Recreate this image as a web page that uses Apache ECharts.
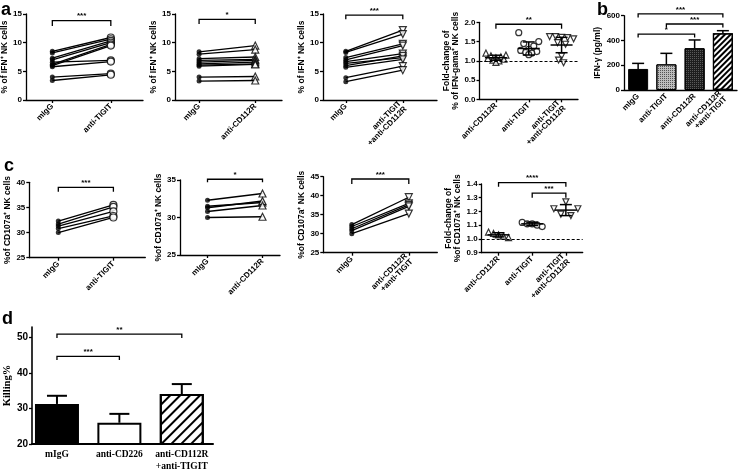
<!DOCTYPE html>
<html><head><meta charset="utf-8">
<script src="https://cdn.jsdelivr.net/npm/echarts@6/dist/echarts.min.js"></script>
<style>html,body{margin:0;padding:0;background:#fff}#c{width:738px;height:472px}</style>
</head><body><div id="c"></div>
<script>
// ================= DATA =================
// Panel a (IFN-gamma+ NK cells, paired donors)
const a1Cats = ['mIgG', 'anti-TIGIT'];
const a1Left = [8.5, 8.2, 7.3, 7.0, 6.6, 6.2, 6.0, 5.8, 4.0, 3.4];
const a1Right = [10.9, 10.6, 10.3, 10.0, 6.9, 9.7, 9.5, 6.7, 4.6, 4.4];
const a2Cats = ['mIgG', 'anti-CD112R'];
const a2Left = [8.4, 8.0, 7.2, 6.9, 6.6, 6.3, 6.1, 5.9, 4.0, 3.3];
const a2Right = [9.5, 8.8, 7.5, 7.1, 6.9, 6.6, 6.3, 6.2, 4.1, 3.4];
const a3Cats = ['mIgG', 'anti-TIGIT\n+anti-CD112R'];
const a3Left = [8.5, 8.3, 7.4, 7.0, 6.7, 6.4, 6.0, 5.7, 3.9, 3.2];
const a3Right = [12.2, 11.5, 9.8, 9.5, 8.1, 7.4, 7.7, 7.1, 5.9, 5.2];
const a4Cats = ['anti-CD112R', 'anti-TIGIT', 'anti-TIGIT\n+anti-CD112R'];
const a4CD112R = [1.2, 1.15, 1.13, 1.1, 1.08, 1.06, 1.04, 1.02, 1.0, 0.96];
const a4TIGIT = [1.73, 1.5, 1.45, 1.38, 1.3, 1.27, 1.24, 1.22, 1.2, 1.16];
const a4Combo = [1.63, 1.63, 1.61, 1.6, 1.57, 1.47, 1.43, 1.12, 1.02, 0.95];
const a4Mean = [1.08, 1.32, 1.41];
const a4SD = [0.065, 0.17, 0.2];
// Panel b (IFN-gamma pg/ml)
const bCats = ['mIgG', 'anti-TIGIT', 'anti-CD112R', 'anti-CD112R\n+anti-TIGIT'];
const bMean = [170, 207, 337, 458];
const bErr = [45, 89, 67, 21];
// Panel c (CD107a+ NK cells)
const c1Cats = ['mIgG', 'anti-TIGIT'];
const c1Left = [32.3, 31.7, 31.3, 30.8, 30.0];
const c1Right = [35.5, 35.1, 34.2, 33.3, 33.0];
const c2Cats = ['mIgG', 'anti-CD112R'];
const c2Left = [32.3, 31.5, 31.3, 30.8, 30.0];
const c2Right = [33.2, 32.0, 32.2, 31.6, 30.1];
const c3Cats = ['mIgG', 'anti-CD112R\n+anti-TIGIT'];
const c3Left = [32.4, 31.9, 31.3, 30.8, 30.0];
const c3Right = [39.6, 38.0, 37.6, 37.2, 35.3];
const c4Cats = ['anti-CD112R', 'anti-TIGIT', 'anti-TIGIT\n+anti-CD112R'];
const c4CD112R = [1.05, 1.04, 1.03, 1.02, 1.01];
const c4TIGIT = [1.12, 1.11, 1.11, 1.10, 1.09];
const c4Combo = [1.27, 1.22, 1.22, 1.18, 1.17];
const c4Mean = [1.03, 1.11, 1.21];
const c4SD = [0.015, 0.012, 0.04];
// Panel d (Killing %)
const dCats = ['mIgG', 'anti-CD226', 'anti-CD112R\n+anti-TIGIT'];
const dMean = [31.3, 26.0, 34.1];
const dErr = [2.3, 2.5, 2.8];
// Significance: [fromCat, toCat, level, armEnd, label]
const a1Sig = [[0, 1, 13.83, 12.9, '***']];
const a2Sig = [[0, 1, 14.07, 13.26, '*']];
const a3Sig = [[0, 1, 14.8, 14.1, '***']];
const a4Sig = [[0, 2, 1.95, 1.83, '**']];
const bSig = [[0, 3, 614, 586, '***'], [1, 3, 533, 505, '***'], [0, 2, 452, 424, '*']];
const c1Sig = [[0, 1, 39.0, 38.1, '***']];
const c2Sig = [[0, 1, 35.1, 34.7, '*']];
const c3Sig = [[0, 1, 44.4, 43.1, '***']];
const c4Sig = [[0, 2, 1.41, 1.38, '****'], [1, 2, 1.333, 1.30, '***']];
const dSig = [[0, 2, 51.0, 49.9, '**'], [0, 1, 44.7, 43.7, '***']];
const foldBaseline = 1.0;

// ================= LAYOUT / STYLE =================
const SANS = "'Liberation Sans', Arial, sans-serif";
const SERIF = "'Liberation Serif', 'Times New Roman', serif";
const BOX = {
  a1: [26, 14, 117, 86], a2: [175, 14, 107, 86], a3: [323, 14, 114, 86], a4: [479.5, 22.3, 98.5, 77],
  b: [624, 15.7, 113, 74.3],
  c1: [29.3, 182.3, 116, 75.4], c2: [180, 180, 100, 75], c3: [323.3, 176.7, 114, 76], c4: [481.7, 184, 101, 68.7],
  d: [32, 327, 181, 117]
};
const SLOTS = 40;
const swarm10 = [-10, 10, -5, 5, 0, -8, 8, -3, 3, 0];
const swarm10b = [-12, -6, 0, 6, 12, -4, 4, 0, -3, 2];
const swarm5 = [-10, -5, 0, 5, 10];
const swarm5c = [0, -12, 12, -5, 5];

const grids = [], xAxes = [], yAxes = [], series = [];
function addGrid(b) {
  grids.push({ left: b[0], top: b[1], width: b[2], height: b[3], containLabel: false, outerBoundsMode: 'none' });
  return grids.length - 1;
}
const axisLine = { show: true, onZero: false, lineStyle: { color: '#000', width: 1.3 } };
function yAx(g, min, max, interval, name, gap, digits, extra) {
  return Object.assign({
    gridIndex: g, type: 'value', min, max, interval, name, nameLocation: 'middle', nameGap: gap, nameRotate: 90,
    nameTextStyle: { fontFamily: SANS, fontWeight: 'bold', fontSize: 8.5, color: '#000', lineHeight: 9.5 },
    axisLine, axisTick: { show: true, length: 3, lineStyle: { color: '#000', width: 1.3 } },
    axisLabel: { fontFamily: SANS, fontWeight: 'bold', fontSize: 8, color: '#000', margin: 4,
      formatter: v => digits ? v.toFixed(digits) : String(Math.round(v)) },
    splitLine: { show: false }
  }, extra || {});
}
function slotAxis(g, n, pos, cats, labelExtra, tickShow) {
  const data = [];
  for (let i = 0; i <= n; i++) data.push('');
  pos.forEach((p, i) => { data[p] = cats[i]; });
  const keep = (i, v) => v !== '';
  return {
    gridIndex: g, type: 'category', data, boundaryGap: false, axisLine,
    axisTick: { show: tickShow !== false, length: 3, interval: keep, lineStyle: { color: '#000', width: 1.3 } },
    axisLabel: Object.assign({ interval: keep, rotate: 45, fontFamily: SANS, fontWeight: 'bold', fontSize: 8, color: '#000', margin: 5 }, labelExtra || {}),
    splitLine: { show: false }
  };
}
function catAxis(g, cats, tickShow) {
  return {
    gridIndex: g, type: 'category', data: cats, boundaryGap: true, axisLine,
    axisTick: { show: tickShow !== false, alignWithLabel: true, length: 3, lineStyle: { color: '#000', width: 1.3 } },
    axisLabel: { interval: 0, rotate: 45, fontFamily: SANS, fontWeight: 'bold', fontSize: 8, color: '#000', margin: 5 },
    splitLine: { show: false }
  };
}
function bracketRender(texts) {
  return function (params, api) {
    const x1 = api.value(0), x2 = api.value(1), y = api.value(2), ya = api.value(3);
    const p1 = api.coord([x1, ya]), p2 = api.coord([x1, y]), p3 = api.coord([x2, y]), p4 = api.coord([x2, ya]);
    return { type: 'group', children: [
      { type: 'polyline', shape: { points: [p1, p2, p3, p4] }, style: { stroke: '#000', lineWidth: 1.3, fill: null } },
      { type: 'text', x: (p2[0] + p3[0]) / 2, y: p2[1] - 0.5,
        style: { text: texts[params.dataIndex], fontFamily: SANS, fontSize: 8, fontWeight: 'bold', fill: '#000', align: 'center', verticalAlign: 'bottom' } }
    ] };
  };
}
function addBrackets(g, pos, sig) {
  series.push({ type: 'custom', xAxisIndex: g, yAxisIndex: g, clip: false, silent: true, z: 6,
    data: sig.map(s => [pos[s[0]], pos[s[1]], s[2], s[3]]), encode: { x: [0, 1], y: [2, 3] },
    renderItem: bracketRender(sig.map(s => s[4])) });
}
function meanSDRender(half, cap) {
  return function (params, api) {
    const x = api.value(0), m = api.value(1), s = api.value(2);
    const pm = api.coord([x, m]), pt = api.coord([x, m + s]), pb = api.coord([x, m - s]);
    const st = { stroke: '#000', lineWidth: 1.5 };
    return { type: 'group', children: [
      { type: 'line', shape: { x1: pt[0], y1: pt[1], x2: pb[0], y2: pb[1] }, style: st },
      { type: 'line', shape: { x1: pm[0] - half, y1: pm[1], x2: pm[0] + half, y2: pm[1] }, style: st },
      { type: 'line', shape: { x1: pt[0] - cap, y1: pt[1], x2: pt[0] + cap, y2: pt[1] }, style: st },
      { type: 'line', shape: { x1: pb[0] - cap, y1: pb[1], x2: pb[0] + cap, y2: pb[1] }, style: st }
    ] };
  };
}
function errRender(cap, lw) {
  return function (params, api) {
    const x = api.value(0), m = api.value(1), e = api.value(2);
    const p0 = api.coord([x, m]), p1 = api.coord([x, m + e]);
    const st = { stroke: '#000', lineWidth: lw };
    return { type: 'group', children: [
      { type: 'line', shape: { x1: p0[0], y1: p0[1], x2: p1[0], y2: p1[1] }, style: st },
      { type: 'line', shape: { x1: p1[0] - cap, y1: p1[1], x2: p1[0] + cap, y2: p1[1] }, style: st }
    ] };
  };
}
const openStyle = { color: '#fff', borderColor: '#000', borderWidth: 1.2 };

function paired(box, pos, cats, left, right, sym, rot, yMin, yMax, yInt, yName, gap, sig) {
  const g = addGrid(box);
  xAxes.push(slotAxis(g, SLOTS, pos, cats));
  yAxes.push(yAx(g, yMin, yMax, yInt, yName, gap, 0));
  left.forEach((v, i) => series.push({ type: 'line', xAxisIndex: g, yAxisIndex: g, data: [[pos[0], v], [pos[1], right[i]]],
    symbol: 'none', lineStyle: { color: '#000', width: 1.3 }, silent: true, z: 2 }));
  series.push({ type: 'scatter', xAxisIndex: g, yAxisIndex: g, data: left.map(v => [pos[0], v]), symbol: 'circle', symbolSize: 5,
    itemStyle: { color: '#000' }, z: 3, silent: true });
  series.push({ type: 'scatter', xAxisIndex: g, yAxisIndex: g, data: right.map(v => [pos[1], v]), symbol: sym, symbolRotate: rot,
    symbolSize: 7, itemStyle: openStyle, z: 4, silent: true });
  addBrackets(g, pos, sig);
}
function dotPlot(box, cats, groups, syms, rots, offs, mean, sd, yMin, yMax, yInt, yName, gap, sig) {
  const g = addGrid(box);
  xAxes.push(catAxis(g, cats));
  yAxes.push(yAx(g, yMin, yMax, yInt, yName, gap, 1));
  groups.forEach((grp, j) => {
    const s = { type: 'scatter', xAxisIndex: g, yAxisIndex: g, symbol: syms[j], symbolRotate: rots[j], symbolSize: 6,
      itemStyle: openStyle, z: 3, silent: true,
      data: grp.map((v, i) => ({ value: [j, v], symbolOffset: [offs[j][i], 0] })) };
    if (j === 0) s.markLine = { silent: true, symbol: ['none', 'none'], label: { show: false },
      lineStyle: { type: [3, 2], color: '#000', width: 1 }, data: [{ yAxis: foldBaseline }] };
    series.push(s);
  });
  series.push({ type: 'custom', xAxisIndex: g, yAxisIndex: g, silent: true, z: 5, clip: false,
    data: mean.map((m, j) => [j, m, sd[j]]), encode: { x: 0, y: 1 }, renderItem: meanSDRender(11, 6) });
  addBrackets(g, [0, 1, 2], sig);
}

// ---- panel a ----
paired(BOX.a1, [9, 29], a1Cats, a1Left, a1Right, 'circle', 0, 0, 15, 5, '% of IFN⁺ NK cells', 10.5, a1Sig);
paired(BOX.a2, [9, 30], a2Cats, a2Left, a2Right, 'triangle', 0, 0, 15, 5, '% of IFN⁺ NK cells', 14, a2Sig);
paired(BOX.a3, [8, 28], a3Cats, a3Left, a3Right, 'triangle', 180, 0, 15, 5, '% of IFN⁺ NK cells', 13, a3Sig);
dotPlot(BOX.a4, a4Cats, [a4CD112R, a4TIGIT, a4Combo], ['triangle', 'circle', 'triangle'], [0, 0, 180],
  [swarm10, swarm10, swarm10b], a4Mean, a4SD, 0, 2, 0.5, 'Fold-change of\n% of IFN-gama⁺ NK cells', 16, a4Sig);

// ---- panel b ----
(function () {
  const g = addGrid(BOX.b);
  xAxes.push(catAxis(g, bCats, false));
  yAxes.push(yAx(g, 0, 600, 200, 'IFN-γ (pg/ml)', 15, 0));
  const bStyles = [
    { color: '#000', borderColor: '#000', borderWidth: 1 },
    { color: '#bdbdbd', borderColor: '#000', borderWidth: 1,
      decal: { symbol: 'rect', symbolSize: 1, dashArrayX: [1, 1], dashArrayY: [1, 1], color: '#555' } },
    { color: '#1e1e1e', borderColor: '#000', borderWidth: 1,
      decal: { symbol: 'rect', symbolSize: 1, dashArrayX: [1, 1], dashArrayY: [1, 1], color: '#5a5a5a' } },
    { color: '#fff', borderColor: '#000', borderWidth: 1.2,
      decal: { symbol: 'rect', symbolSize: 1, dashArrayX: [[1, 0]], dashArrayY: [1.2, 2], rotation: -Math.PI / 4, color: '#000' } }
  ];
  series.push({ type: 'bar', xAxisIndex: g, yAxisIndex: g, barWidth: 20, silent: true,
    data: bMean.map((v, i) => ({ value: v, itemStyle: bStyles[i] })) });
  series.push({ type: 'custom', xAxisIndex: g, yAxisIndex: g, silent: true, z: 5, clip: false,
    data: bMean.map((m, i) => [i, m, bErr[i]]), encode: { x: 0, y: 1 }, renderItem: errRender(6, 1.5) });
  addBrackets(g, [0, 1, 2, 3], bSig);
})();

// ---- panel c ----
paired(BOX.c1, [10, 29], c1Cats, c1Left, c1Right, 'circle', 0, 25, 40, 5, '%of CD107a⁺ NK cells', 9.5, c1Sig);
paired(BOX.c2, [11, 33], c2Cats, c2Left, c2Right, 'triangle', 0, 25, 35, 5, '%of CD107a⁺ NK cells', 12, c2Sig);
paired(BOX.c3, [10, 30], c3Cats, c3Left, c3Right, 'triangle', 180, 25, 45, 5, '%of CD107a⁺ NK cells', 12, c3Sig);
dotPlot(BOX.c4, c4Cats, [c4CD112R, c4TIGIT, c4Combo], ['triangle', 'circle', 'triangle'], [0, 0, 180],
  [swarm5, swarm5, swarm5c], c4Mean, c4SD, 0.9, 1.4, 0.1, 'Fold-change of\n%of CD107a⁺ NK cells', 16, c4Sig);

// ---- panel d ----
(function () {
  const g = addGrid(BOX.d);
  const dPos = [4, 14, 24];
  xAxes.push(slotAxis(g, 29, dPos, dCats, { rotate: 0, fontFamily: SERIF, fontSize: 9.5, margin: 5, lineHeight: 12 }, false));
  yAxes.push(yAx(g, 20, 53, 10, 'Killing%', 11, 0, {
    nameTextStyle: { fontFamily: SERIF, fontWeight: 'bold', fontSize: 10.5, color: '#000' },
    axisLine: { show: true, onZero: false, lineStyle: { color: '#000', width: 1.6 } },
    axisLabel: { fontFamily: SANS, fontWeight: 'bold', fontSize: 10, color: '#000', margin: 4, showMaxLabel: false,
      formatter: v => (Math.round(v) % 10 === 0 ? String(Math.round(v)) : '') } }));
  xAxes[g].axisLine = { show: true, onZero: false, lineStyle: { color: '#000', width: 2 } };
  const dStyles = [
    { color: '#000', borderColor: '#000', borderWidth: 2 },
    { color: '#fff', borderColor: '#000', borderWidth: 2 },
    { color: '#fff', borderColor: '#000', borderWidth: 2,
      decal: { symbol: 'rect', symbolSize: 1, dashArrayX: [[1, 0]], dashArrayY: [1.6, 4.5], rotation: -Math.PI / 4, color: '#000' } }
  ];
  series.push({ type: 'bar', xAxisIndex: g, yAxisIndex: g, barWidth: 44, silent: true,
    data: dMean.map((v, i) => ({ value: [dPos[i], v], itemStyle: dStyles[i] })) });
  series.push({ type: 'custom', xAxisIndex: g, yAxisIndex: g, silent: true, z: 5, clip: false,
    data: dMean.map((m, i) => [dPos[i], m, dErr[i]]), encode: { x: 0, y: 1 }, renderItem: errRender(10, 2) });
  addBrackets(g, dPos, dSig);
})();

const letters = [['a', 1, 1], ['b', 597, 1], ['c', 4, 157], ['d', 2, 310]];
const chart = echarts.init(document.getElementById('c'), null, { renderer: 'canvas' });
chart.setOption({
  animation: false,
  backgroundColor: '#fff',
  textStyle: { fontFamily: SANS },
  grid: grids, xAxis: xAxes, yAxis: yAxes, series,
  graphic: letters.map(l => ({ type: 'text', x: l[1], y: l[2],
    style: { text: l[0], fontFamily: SANS, fontWeight: 'bold', fontSize: 18, fill: '#000', verticalAlign: 'top' } }))
});
</script></body></html>
